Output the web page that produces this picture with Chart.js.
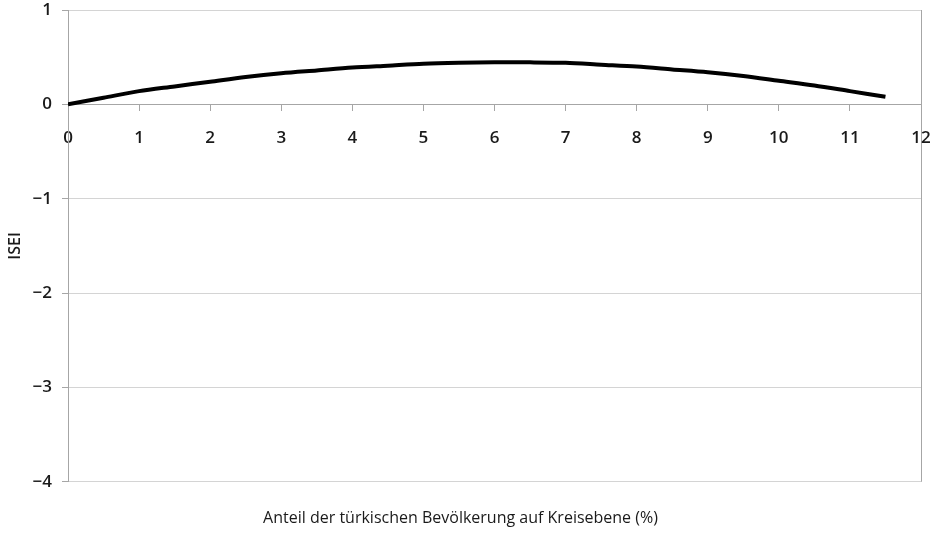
<!DOCTYPE html>
<html>
  <head>
    <script src="https://cdn.jsdelivr.net/npm/chart.js"></script>
    <style>
      body {
        margin: 0;
        padding: 0;
        background: #ffffff;
        overflow: hidden;
      }
    </style>
  </head>
  <body>
    <canvas id="iseiChart" width="937" height="533"></canvas>
    <script>
      // Anteil (%) and ISEI effect
      const shares = [0, 0.5, 1, 1.5, 2, 2.5, 3, 3.5, 4, 4.5, 5, 5.5, 6, 6.5, 7, 7.5, 8, 8.5, 9, 9.5, 10, 10.5, 11, 11.5];
      const isei = [0, 0.07, 0.14, 0.19, 0.24, 0.29, 0.33, 0.36, 0.39, 0.41, 0.43, 0.44, 0.445, 0.445, 0.44, 0.42, 0.4, 0.37, 0.34, 0.3, 0.25, 0.2, 0.14, 0.08];
      const xTicks = [0, 1, 2, 3, 4, 5, 6, 7, 8, 9, 10, 11, 12];
      const yTicks = [1, 0, -1, -2, -3, -4];

      const axisGrey = "#a6a6a6";
      const gridGrey = "#d4d4d4";
      const tickFont = { family: "Open Sans", size: 17, weight: "600" };

      const ctx = document.getElementById("iseiChart").getContext("2d");
      new Chart(ctx, {
        type: "line",
        data: {
          datasets: [
            {
              data: shares.map((x, i) => ({ x: x, y: isei[i] })),
              borderColor: "#000000",
              borderWidth: 4,
              pointRadius: 0,
              tension: 0.3,
              fill: false,
            },
          ],
        },
        options: {
          responsive: false,
          animation: false,
          devicePixelRatio: 1,
          layout: { padding: { left: 0, right: 16, top: 10, bottom: 0 } },
          plugins: {
            legend: { display: false },
            tooltip: { enabled: false },
            title: {
              display: true,
              position: "bottom",
              text: "Anteil der türkischen Bevölkerung auf Kreisebene (%)",
              color: "#1a1a1a",
              font: { family: "Open Sans", size: 16, weight: "normal" },
              padding: { top: 27, bottom: 5 },
            },
          },
          scales: {
            x: {
              type: "linear",
              position: { y: 0 },
              min: 0,
              max: 12,
              afterBuildTicks: (scale) => {
                scale.ticks = xTicks.map((v) => ({ value: v }));
              },
              afterFit: (scale) => {
                scale.paddingLeft = 0;
                scale.paddingRight = 0;
              },
              grid: {
                drawOnChartArea: true,
                color: (c) => (c.tick && c.tick.value === 12 ? axisGrey : "rgba(0,0,0,0)"),
                tickColor: axisGrey,
                tickLength: 6,
              },
              border: { display: true, color: axisGrey, width: 1 },
              ticks: {
                color: "#1a1a1a",
                font: tickFont,
                padding: 18,
                maxRotation: 0,
                autoSkip: false,
              },
            },
            y: {
              type: "linear",
              min: -4,
              max: 1,
              afterBuildTicks: (scale) => {
                scale.ticks = yTicks.map((v) => ({ value: v }));
              },
              afterFit: (scale) => {
                scale.width = 68;
                scale.paddingTop = 0;
                scale.paddingBottom = 0;
              },
              grid: {
                color: gridGrey,
                tickColor: axisGrey,
                tickLength: 6,
              },
              border: { display: true, color: axisGrey, width: 1 },
              ticks: {
                color: "#1a1a1a",
                font: tickFont,
                padding: 10,
                callback: (v) => (v < 0 ? "\u2212" + Math.abs(v) : String(v)),
              },
              title: {
                display: true,
                text: "ISEI",
                color: "#1a1a1a",
                font: { family: "Open Sans", size: 16, weight: "600" },
                padding: { top: 6, bottom: 0 },
              },
            },
          },
        },
      });
    </script>
  </body>
</html>
